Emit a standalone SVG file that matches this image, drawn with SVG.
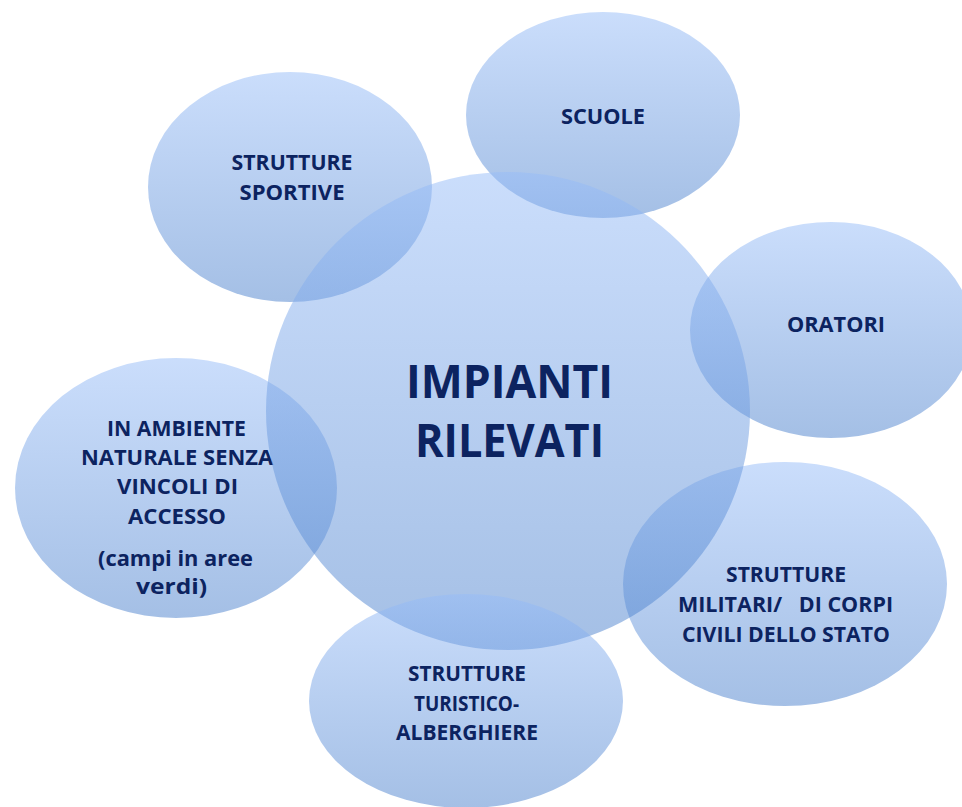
<svg xmlns="http://www.w3.org/2000/svg" width="962" height="807" viewBox="0 0 962 807">
<defs>
<linearGradient id="g" x1="0" y1="0" x2="0" y2="1">
<stop offset="0" stop-color="#96bcf8"/>
<stop offset="1" stop-color="#4a80cc"/>
</linearGradient>
</defs>
<style>
.b{fill:url(#g);fill-opacity:0.5}
.t{font-family:"Open Sans","Liberation Sans",sans-serif;font-weight:bold;fill:#0c2360;text-anchor:middle;font-size:22px}
.big{font-size:47px}
</style>
<rect width="962" height="807" fill="#ffffff"/>
<g id="connectors"/>
<g id="sportive"><ellipse class="b" cx="290" cy="187" rx="142" ry="115"/>
<text class="t" x="292" y="170" textLength="121" lengthAdjust="spacingAndGlyphs">STRUTTURE</text>
<text class="t" x="292" y="200" textLength="105" lengthAdjust="spacingAndGlyphs">SPORTIVE</text></g>
<g id="scuole"><ellipse class="b" cx="603" cy="115" rx="137" ry="103"/>
<text class="t" x="603" y="124" textLength="84" lengthAdjust="spacingAndGlyphs">SCUOLE</text></g>
<g id="oratori"><ellipse class="b" cx="831" cy="330" rx="141" ry="108"/>
<text class="t" x="836" y="332" textLength="98" lengthAdjust="spacingAndGlyphs">ORATORI</text></g>
<g id="militari"><ellipse class="b" cx="785" cy="584" rx="162" ry="122"/>
<text class="t" x="786" y="582" textLength="120" lengthAdjust="spacingAndGlyphs">STRUTTURE</text>
<text class="t" x="785.5" y="612" textLength="215" lengthAdjust="spacingAndGlyphs" xml:space="preserve">MILITARI/   DI CORPI</text>
<text class="t" x="786" y="642" textLength="208" lengthAdjust="spacingAndGlyphs">CIVILI DELLO STATO</text></g>
<g id="ambiente"><ellipse class="b" cx="176" cy="488" rx="161" ry="130"/>
<text class="t" x="176.5" y="436" textLength="139" lengthAdjust="spacingAndGlyphs">IN AMBIENTE</text>
<text class="t" x="177" y="465" textLength="192" lengthAdjust="spacingAndGlyphs">NATURALE SENZA</text>
<text class="t" x="177.5" y="494" textLength="121" lengthAdjust="spacingAndGlyphs">VINCOLI DI</text>
<text class="t" x="177" y="524" textLength="98" lengthAdjust="spacingAndGlyphs">ACCESSO</text>
<text class="t" x="175.5" y="566" textLength="155" lengthAdjust="spacingAndGlyphs">(campi in aree</text>
<text class="t" x="171.5" y="594" textLength="71" lengthAdjust="spacingAndGlyphs">verdi)</text></g>
<g id="centro"><ellipse class="b" cx="508" cy="411" rx="242" ry="239"/>
<text class="t big" x="509.5" y="398" textLength="207" lengthAdjust="spacingAndGlyphs">IMPIANTI</text>
<text class="t big" x="509.5" y="457" textLength="189" lengthAdjust="spacingAndGlyphs">RILEVATI</text></g>
<g id="turistico"><ellipse class="b" cx="466" cy="701" rx="157" ry="107"/>
<text class="t" x="467" y="681" textLength="118" lengthAdjust="spacingAndGlyphs">STRUTTURE</text>
<text class="t" x="466.5" y="711" textLength="105" lengthAdjust="spacingAndGlyphs">TURISTICO-</text>
<text class="t" x="467" y="740" textLength="142" lengthAdjust="spacingAndGlyphs">ALBERGHIERE</text></g>
</svg>
